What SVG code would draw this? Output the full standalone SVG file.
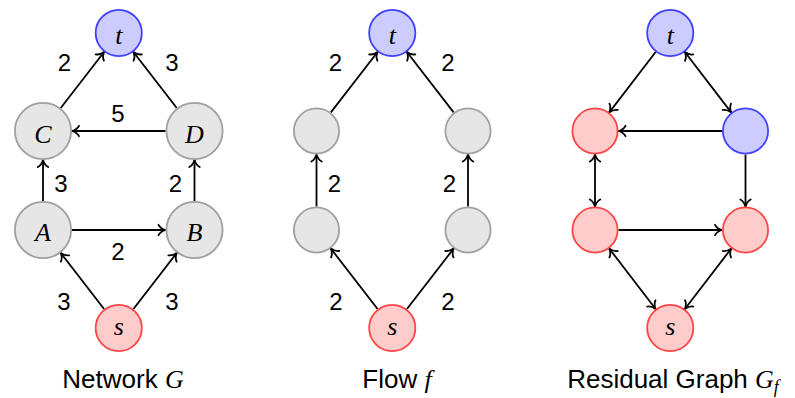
<svg xmlns="http://www.w3.org/2000/svg" width="795" height="398" viewBox="0 0 795 398">
<style>
.edge{fill:none;stroke:#000;stroke-width:1.8}
.blue{fill:#ccccff;stroke:#4040ff;stroke-width:1.8}
.red{fill:#ffcccc;stroke:#ff4545;stroke-width:1.8}
.gray{fill:#e6e6e6;stroke:#a0a0a0;stroke-width:1.8}
.nl{font-family:"Liberation Serif",serif;font-style:italic;font-size:26px;text-anchor:middle;fill:#000}
.el{font-family:"Liberation Sans",sans-serif;font-size:24px;text-anchor:middle;fill:#000}
.cap{font-family:"Liberation Sans",sans-serif;font-size:26px;text-anchor:middle;fill:#000}
.mi{font-family:"Liberation Serif",serif;font-style:italic}
</style>
<defs>
<marker id="arr" viewBox="-10 -7 12 14" refX="0" refY="0" markerWidth="12" markerHeight="14" markerUnits="userSpaceOnUse" orient="auto-start-reverse">
<path d="M-7,-5.2 C-5.6,-2.4 -2.4,-0.7 0,0 C-2.4,0.7 -5.6,2.4 -7,5.2" fill="none" stroke="#000" stroke-width="1.8" stroke-linecap="round" stroke-linejoin="round"/>
</marker>
</defs>

<g id="connectors">
<!-- Network G -->
<line class="edge" x1="60.74" y1="108.05" x2="104.07" y2="51.99" marker-end="url(#arr)"/>
<line class="edge" x1="176.76" y1="108.05" x2="133.43" y2="51.99" marker-end="url(#arr)"/>
<line class="edge" x1="165.5" y1="131" x2="72" y2="131" marker-end="url(#arr)"/>
<line class="edge" x1="43" y1="201" x2="43" y2="160" marker-end="url(#arr)"/>
<line class="edge" x1="194.5" y1="201" x2="194.5" y2="160" marker-end="url(#arr)"/>
<line class="edge" x1="72" y1="230" x2="165.5" y2="230" marker-end="url(#arr)"/>
<line class="edge" x1="104.07" y1="309.01" x2="60.74" y2="252.94" marker-end="url(#arr)"/>
<line class="edge" x1="133.43" y1="309.01" x2="176.76" y2="252.94" marker-end="url(#arr)"/>
<!-- Flow f -->
<line class="edge" x1="330.87" y1="112.41" x2="377.57" y2="51.99" marker-end="url(#arr)"/>
<line class="edge" x1="453.63" y1="112.41" x2="406.93" y2="51.99" marker-end="url(#arr)"/>
<line class="edge" x1="316.5" y1="206.5" x2="316.5" y2="154.5" marker-end="url(#arr)"/>
<line class="edge" x1="468" y1="206.5" x2="468" y2="154.5" marker-end="url(#arr)"/>
<line class="edge" x1="377.57" y1="309.01" x2="330.87" y2="248.59" marker-end="url(#arr)"/>
<line class="edge" x1="406.93" y1="309.01" x2="453.63" y2="248.59" marker-end="url(#arr)"/>
<!-- Residual Graph -->
<line class="edge" x1="655.63" y1="52.03" x2="609.31" y2="112.36" marker-end="url(#arr)"/>
<line class="edge" x1="684.87" y1="52.03" x2="731.19" y2="112.36" marker-start="url(#arr)" marker-end="url(#arr)"/>
<line class="edge" x1="722" y1="131" x2="618.5" y2="131" marker-end="url(#arr)"/>
<line class="edge" x1="595" y1="154.5" x2="595" y2="206.5" marker-start="url(#arr)" marker-end="url(#arr)"/>
<line class="edge" x1="745.5" y1="154.5" x2="745.5" y2="206.5" marker-end="url(#arr)"/>
<line class="edge" x1="618.5" y1="230" x2="722" y2="230" marker-end="url(#arr)"/>
<line class="edge" x1="609.31" y1="248.64" x2="655.63" y2="308.97" marker-start="url(#arr)" marker-end="url(#arr)"/>
<line class="edge" x1="731.19" y1="248.64" x2="684.87" y2="308.97" marker-start="url(#arr)" marker-end="url(#arr)"/>
</g>

<g id="edge-labels">
<text class="el" x="64.5" y="71">2</text>
<text class="el" x="172" y="71">3</text>
<text class="el" x="118" y="121.5">5</text>
<text class="el" x="61" y="191.5">3</text>
<text class="el" x="175.5" y="191.5">2</text>
<text class="el" x="118" y="259.5">2</text>
<text class="el" x="64" y="310">3</text>
<text class="el" x="172" y="310">3</text>
<text class="el" x="335.5" y="71">2</text>
<text class="el" x="448" y="71">2</text>
<text class="el" x="334.5" y="191.5">2</text>
<text class="el" x="449.5" y="191.5">2</text>
<text class="el" x="336" y="309.5">2</text>
<text class="el" x="448" y="309.5">2</text>
</g>

<!-- Network G nodes -->
<g id="g1-t"><circle class="blue" cx="118.75" cy="33" r="23.1"/><text class="nl" x="118.75" y="44">t</text></g>
<g id="g1-C"><circle class="gray" cx="43" cy="131" r="28.1"/><text class="nl" x="43" y="142.5">C</text></g>
<g id="g1-D"><circle class="gray" cx="194.5" cy="131" r="28.1"/><text class="nl" x="194.5" y="142.5">D</text></g>
<g id="g1-A"><circle class="gray" cx="43" cy="230" r="28.1"/><text class="nl" x="43" y="240.5">A</text></g>
<g id="g1-B"><circle class="gray" cx="194.5" cy="230" r="28.1"/><text class="nl" x="194.5" y="240.5">B</text></g>
<g id="g1-s"><circle class="red" cx="118.75" cy="328" r="23.1"/><text class="nl" x="118.75" y="335">s</text></g>

<!-- Flow f nodes -->
<g id="g2-t"><circle class="blue" cx="392.25" cy="33" r="23.1"/><text class="nl" x="392.25" y="44">t</text></g>
<g id="g2-C"><circle class="gray" cx="316.5" cy="131" r="22.6"/></g>
<g id="g2-D"><circle class="gray" cx="468" cy="131" r="22.6"/></g>
<g id="g2-A"><circle class="gray" cx="316.5" cy="230" r="22.6"/></g>
<g id="g2-B"><circle class="gray" cx="468" cy="230" r="22.6"/></g>
<g id="g2-s"><circle class="red" cx="392.25" cy="328" r="23.1"/><text class="nl" x="392.25" y="335">s</text></g>

<!-- Residual graph nodes -->
<g id="g3-t"><circle class="blue" cx="670.25" cy="33" r="23.1"/><text class="nl" x="670.25" y="44">t</text></g>
<g id="g3-C"><circle class="red" cx="595" cy="131" r="22.6"/></g>
<g id="g3-D"><circle class="blue" cx="745.5" cy="131" r="22.6"/></g>
<g id="g3-A"><circle class="red" cx="595" cy="230" r="22.6"/></g>
<g id="g3-B"><circle class="red" cx="745.5" cy="230" r="22.6"/></g>
<g id="g3-s"><circle class="red" cx="670.25" cy="328" r="23.1"/><text class="nl" x="670.25" y="335">s</text></g>

<g id="captions">
<text class="cap" x="123" y="388">Network <tspan class="mi">G</tspan></text>
<text class="cap" x="397" y="388">Flow <tspan class="mi">f</tspan></text>
<text class="cap" x="673" y="388">Residual Graph <tspan class="mi">G</tspan><tspan class="mi" font-size="18" dy="5">f</tspan></text>
</g>
</svg>
